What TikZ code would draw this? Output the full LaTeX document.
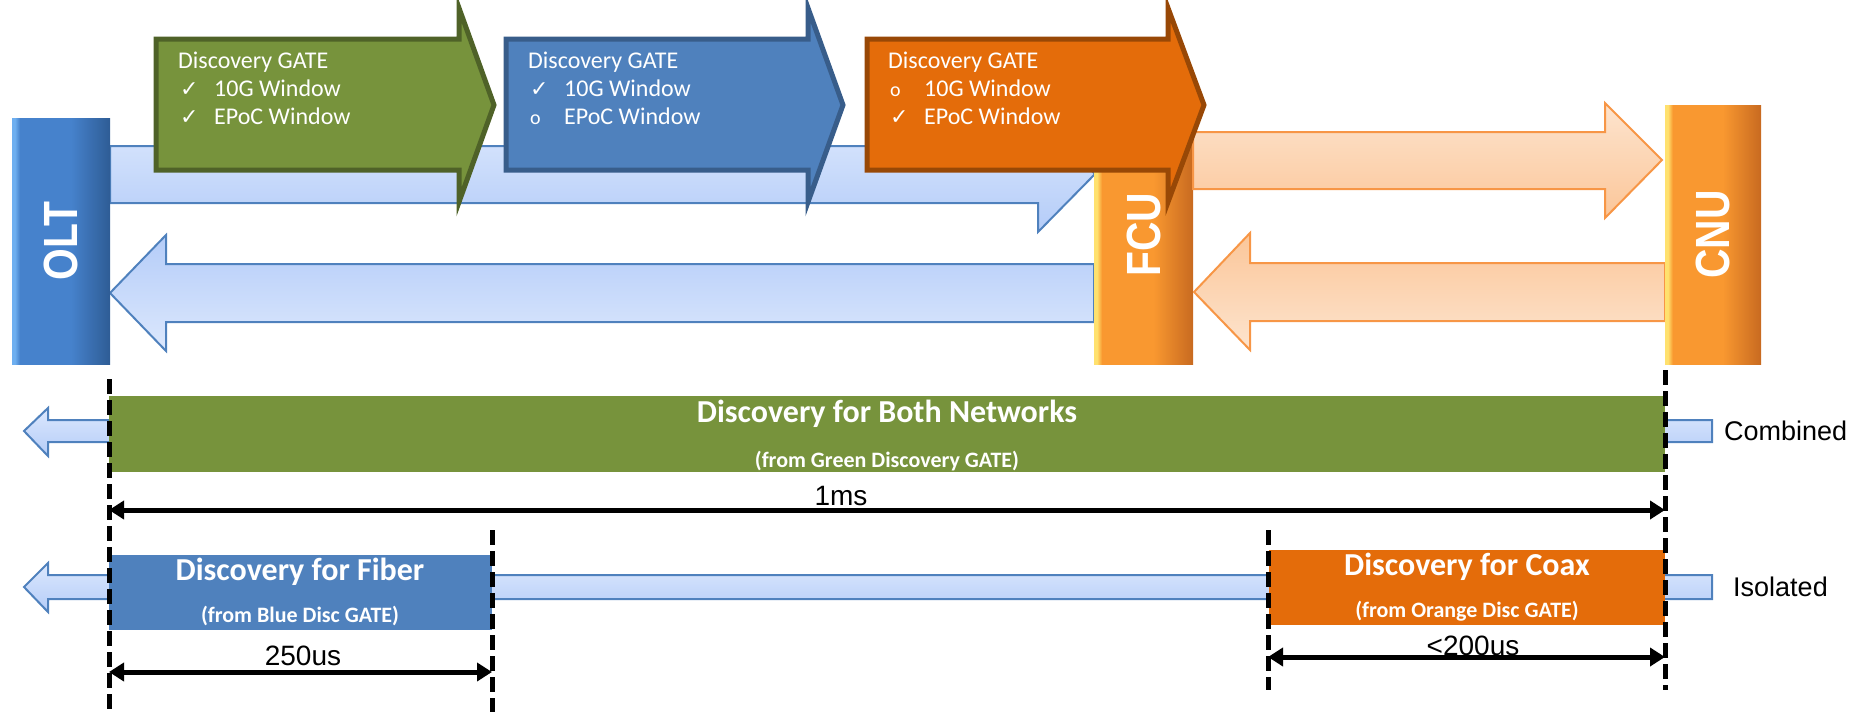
\documentclass[tikz,border=0pt]{standalone}
\usepackage{fontspec}
\setmainfont{Carlito}
\newfontfamily\arialfont{Liberation Sans}
\newfontfamily\dejavu{DejaVu Sans}
\usetikzlibrary{arrows.meta}
\definecolor{gategreen}{RGB}{119,147,60}
\definecolor{gategreenline}{RGB}{79,98,40}
\definecolor{gateblue}{RGB}{79,129,189}
\definecolor{gateblueline}{RGB}{56,93,138}
\definecolor{gateorange}{RGB}{228,108,10}
\definecolor{gateorangeline}{RGB}{152,72,6}
\definecolor{pipelight}{RGB}{220,232,253}
\definecolor{pipedark}{RGB}{180,204,248}
\definecolor{pipeline}{RGB}{79,129,189}
\definecolor{coaxlight}{RGB}{253,228,206}
\definecolor{coaxdark}{RGB}{251,198,153}
\definecolor{coaxline}{RGB}{247,150,70}
\definecolor{oltlight}{RGB}{110,175,240}
\definecolor{oltmid}{RGB}{70,130,204}
\definecolor{oltdark}{RGB}{46,92,149}
\definecolor{unitlight}{RGB}{255,225,110}
\definecolor{unitmid}{RGB}{249,152,48}
\definecolor{unitdark}{RGB}{200,106,32}
\pgfdeclarehorizontalshading{oltshade}{100bp}{color(0bp)=(oltlight); color(25bp)=(oltlight);
  color(26.5bp)=(oltlight); color(29bp)=(oltmid); color(55bp)=(oltmid);
  color(75bp)=(oltdark); color(100bp)=(oltdark)}
\pgfdeclarehorizontalshading{unitshade}{100bp}{color(0bp)=(unitlight); color(25bp)=(unitlight);
  color(26.5bp)=(unitlight); color(29bp)=(unitmid); color(55bp)=(unitmid);
  color(75bp)=(unitdark); color(100bp)=(unitdark)}

\begin{document}
\begin{tikzpicture}[x=1pt, y=-1pt,
    gate/.style={line width=5pt},
    pipe/.style={draw=pipeline, line width=2pt},
    coax/.style={draw=coaxline, line width=2pt},
    oltbox/.style={shading=oltshade, minimum width=98pt, minimum height=246pt, inner sep=0pt},
    unitbox/.style={shading=unitshade, minimum height=259pt, inner sep=0pt},
    unitlabel/.style={rotate=90, text=white, inner sep=0pt,
      font=\arialfont\bfseries\fontsize{48}{48}\selectfont},
    gatetext/.style={text=white, inner sep=0pt, anchor=base west,
      font=\fontsize{24}{28}\selectfont},
    gatemark/.style={text=white, inner sep=0pt, anchor=base west,
      font=\dejavu\fontsize{22}{24}\selectfont},
    gatecircle/.style={text=white, inner sep=0pt, anchor=base west,
      font=\fontsize{20}{22}\selectfont},
    bartitle/.style={text=white, inner sep=0pt, anchor=base,
      font=\bfseries\fontsize{32}{36}\selectfont},
    barnote/.style={text=white, inner sep=0pt, anchor=base,
      font=\bfseries\fontsize{22}{26}\selectfont},
    timelabel/.style={inner sep=0pt, anchor=base,
      font=\arialfont\fontsize{28}{32}\selectfont},
    rowlabel/.style={inner sep=0pt, anchor=west,
      font=\arialfont\fontsize{27}{30}\selectfont},
    marker/.style={line width=5pt, dash pattern=on 15pt off 6pt},
    span/.style={line width=5pt,
      {Triangle[length=15pt,width=18pt]}-{Triangle[length=15pt,width=18pt]}}]

  \useasboundingbox (0,0) rectangle (1869,712);

  % fibre pipes
  \path[pipe, top color=pipelight, bottom color=pipedark]
    (110,146) -- (1038,146) -- (1038,117) -- (1095,174) -- (1038,232)
    -- (1038,203) -- (110,203) -- cycle;
  \path[pipe, top color=pipedark, bottom color=pipelight]
    (1094,264) -- (166,264) -- (166,235) -- (110,293) -- (166,351)
    -- (166,322) -- (1094,322) -- cycle;

  \node[oltbox] (olt) at (61,241) {};
  \node[unitlabel] (olt label) at (olt) {\scalebox{0.85}[1]{OLT}};
  \node[unitbox, minimum width=99pt] (fcu) at (1143.5,234.5) {};
  \node[unitlabel] (fcu label) at (fcu) {\scalebox{0.85}[1]{FCU}};

  % coax pipes
  \path[coax, top color=coaxlight, bottom color=coaxdark]
    (1193,132) -- (1605,132) -- (1605,103) -- (1662,160) -- (1605,218)
    -- (1605,189) -- (1193,189) -- cycle;
  \path[coax, top color=coaxdark, bottom color=coaxlight]
    (1665,263) -- (1250,263) -- (1250,233) -- (1194,292) -- (1250,350)
    -- (1250,321) -- (1665,321) -- cycle;

  \node[unitbox, minimum width=96pt] (cnu) at (1713,234.5) {};
  \node[unitlabel] (cnu label) at (cnu) {\scalebox{0.85}[1]{CNU}};

  % discovery gates
  \path[gate, draw=gategreenline, fill=gategreen]
    (156,39) -- (459,39) -- (459,8) -- (494,105) -- (459,202) -- (459,170)
    -- (156,170) -- cycle;
  \node[gatetext] (green title) at (178,68) {Discovery GATE};
  \node[gatemark] (green mark a) at (180,96) {✓};
  \node[gatetext] (green item a) at (214,96) {10G Window};
  \node[gatemark] (green mark b) at (180,124) {✓};
  \node[gatetext] (green item b) at (214,124) {EPoC Window};

  \path[gate, draw=gateblueline, fill=gateblue]
    (506,39) -- (808,39) -- (808,8) -- (843,105) -- (808,202) -- (808,170)
    -- (506,170) -- cycle;
  \node[gatetext] (blue title) at (528,68) {Discovery GATE};
  \node[gatemark] (blue mark a) at (530,96) {✓};
  \node[gatetext] (blue item a) at (564,96) {10G Window};
  \node[gatecircle] (blue mark b) at (530,124) {o};
  \node[gatetext] (blue item b) at (564,124) {EPoC Window};

  \path[gate, draw=gateorangeline, fill=gateorange]
    (867,39) -- (1168,39) -- (1168,8) -- (1204,105) -- (1168,202) -- (1168,170)
    -- (867,170) -- cycle;
  \node[gatetext] (orange title) at (888,68) {Discovery GATE};
  \node[gatecircle] (orange mark a) at (890,96) {o};
  \node[gatetext] (orange item a) at (924,96) {10G Window};
  \node[gatemark] (orange mark b) at (890,124) {✓};
  \node[gatetext] (orange item b) at (924,124) {EPoC Window};

  % combined row
  \path[pipe, top color=pipelight, bottom color=pipedark]
    (1712,420) -- (48,420) -- (48,408) -- (24,431) -- (48,456) -- (48,442)
    -- (1712,442) -- cycle;
  \fill[gategreen] (109,396) rectangle (1665,472);
  \node[bartitle] (both title) at (887,422) {Discovery for Both Networks};
  \node[barnote] (both note) at (887,467) {(from Green Discovery GATE)};
  \node[rowlabel] (combined) at (1724,431) {Combined};

  % isolated row
  \path[pipe, top color=pipelight, bottom color=pipedark]
    (1712,575) -- (48,575) -- (48,563) -- (24,587) -- (48,612) -- (48,599)
    -- (1712,599) -- cycle;
  \fill[gateblue] (109,555) rectangle (492,630);
  \node[bartitle] (fiber title) at (300,580) {Discovery for Fiber};
  \node[barnote] (fiber note) at (300,622) {(from Blue Disc GATE)};
  \fill[gateorange] (1269,550) rectangle (1665,625);
  \node[bartitle] (coax title) at (1467,575) {Discovery for Coax};
  \node[barnote] (coax note) at (1467,617) {(from Orange Disc GATE)};
  \node[rowlabel] (isolated) at (1733,587) {Isolated};

  % time markers
  \coordinate (olt top) at (109,379);
  \coordinate (olt bottom) at (109,712);
  \coordinate (cnu top) at (1665,370);
  \coordinate (cnu bottom) at (1665,690);
  \coordinate (fiber top) at (492,530);
  \coordinate (fiber bottom) at (492,712);
  \coordinate (coax top) at (1268,530);
  \coordinate (coax bottom) at (1268,690);
  \draw[marker] (olt top) -- (olt bottom);
  \draw[marker] (cnu top) -- (cnu bottom);
  \draw[marker] (fiber top) -- (fiber bottom);
  \draw[marker] (coax top) -- (coax bottom);

  \coordinate (ms start) at (109,510);
  \coordinate (ms end) at (1665,510);
  \draw[span] (ms start) -- (ms end);
  \node[timelabel] (ms) at (841,505) {1ms};

  \coordinate (fiber start) at (109,672);
  \coordinate (fiber end) at (492,672);
  \draw[span] (fiber start) -- (fiber end);
  \node[timelabel] (fiber time) at (303,665) {250us};

  \coordinate (coax start) at (1268,657);
  \coordinate (coax end) at (1665,657);
  \draw[span] (coax start) -- (coax end);
  \node[timelabel] (coax time) at (1473,655) {<200us};
\end{tikzpicture}
\end{document}
